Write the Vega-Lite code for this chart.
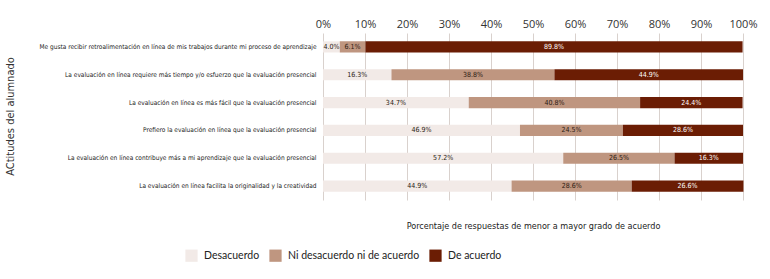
{
  "$schema": "https://vega.github.io/schema/vega-lite/v6.json",
  "width": 420,
  "height": 167,
  "autosize": "none",
  "padding": {"left": 323, "top": 33, "right": 27, "bottom": 79},
  "background": "white",
  "config": {"view": {"stroke": null}},
  "data": {"values": [
    {"actitud": "Me gusta recibir retroalimentación en línea de mis trabajos durante mi proceso de aprendizaje", "respuesta": "Desacuerdo", "orden": 1, "porcentaje": 0.040},
    {"actitud": "Me gusta recibir retroalimentación en línea de mis trabajos durante mi proceso de aprendizaje", "respuesta": "Ni desacuerdo ni de acuerdo", "orden": 2, "porcentaje": 0.061},
    {"actitud": "Me gusta recibir retroalimentación en línea de mis trabajos durante mi proceso de aprendizaje", "respuesta": "De acuerdo", "orden": 3, "porcentaje": 0.898},
    {"actitud": "La evaluación en línea requiere más tiempo y/o esfuerzo que la evaluación presencial", "respuesta": "Desacuerdo", "orden": 1, "porcentaje": 0.163},
    {"actitud": "La evaluación en línea requiere más tiempo y/o esfuerzo que la evaluación presencial", "respuesta": "Ni desacuerdo ni de acuerdo", "orden": 2, "porcentaje": 0.388},
    {"actitud": "La evaluación en línea requiere más tiempo y/o esfuerzo que la evaluación presencial", "respuesta": "De acuerdo", "orden": 3, "porcentaje": 0.449},
    {"actitud": "La evaluación en línea es más fácil que la evaluación presencial", "respuesta": "Desacuerdo", "orden": 1, "porcentaje": 0.347},
    {"actitud": "La evaluación en línea es más fácil que la evaluación presencial", "respuesta": "Ni desacuerdo ni de acuerdo", "orden": 2, "porcentaje": 0.408},
    {"actitud": "La evaluación en línea es más fácil que la evaluación presencial", "respuesta": "De acuerdo", "orden": 3, "porcentaje": 0.244},
    {"actitud": "Prefiero la evaluación en línea que la evaluación presencial", "respuesta": "Desacuerdo", "orden": 1, "porcentaje": 0.469},
    {"actitud": "Prefiero la evaluación en línea que la evaluación presencial", "respuesta": "Ni desacuerdo ni de acuerdo", "orden": 2, "porcentaje": 0.245},
    {"actitud": "Prefiero la evaluación en línea que la evaluación presencial", "respuesta": "De acuerdo", "orden": 3, "porcentaje": 0.286},
    {"actitud": "La evaluación en línea contribuye más a mi aprendizaje que la evaluación presencial", "respuesta": "Desacuerdo", "orden": 1, "porcentaje": 0.572},
    {"actitud": "La evaluación en línea contribuye más a mi aprendizaje que la evaluación presencial", "respuesta": "Ni desacuerdo ni de acuerdo", "orden": 2, "porcentaje": 0.265},
    {"actitud": "La evaluación en línea contribuye más a mi aprendizaje que la evaluación presencial", "respuesta": "De acuerdo", "orden": 3, "porcentaje": 0.163},
    {"actitud": "La evaluación en línea facilita la originalidad y la creatividad", "respuesta": "Desacuerdo", "orden": 1, "porcentaje": 0.449},
    {"actitud": "La evaluación en línea facilita la originalidad y la creatividad", "respuesta": "Ni desacuerdo ni de acuerdo", "orden": 2, "porcentaje": 0.286},
    {"actitud": "La evaluación en línea facilita la originalidad y la creatividad", "respuesta": "De acuerdo", "orden": 3, "porcentaje": 0.266}
  ]},
  "encoding": {
    "y": {
      "field": "actitud",
      "type": "nominal",
      "sort": null,
      "scale": {"paddingInner": 0.6, "paddingOuter": 0.3},
      "axis": {
        "title": "ACtitudes del alumnado",
        "titleFont": "DejaVu Sans Condensed, sans-serif",
        "titleFontSize": 11,
        "titleFontWeight": "normal",
        "titleColor": "#333333",
        "titleX": -313,
        "titleY": 83,
        "titleAngle": -90,
        "titleAlign": "center",
        "titleBaseline": "middle",
        "labelFont": "DejaVu Sans Condensed, sans-serif",
        "labelFontSize": 6.5,
        "labelColor": "#222222",
        "labelLimit": 320,
        "labelPadding": 7,
        "ticks": false,
        "domain": false
      }
    }
  },
  "layer": [
    {
      "mark": {"type": "bar"},
      "encoding": {
        "x": {
          "field": "porcentaje",
          "type": "quantitative",
          "stack": "zero",
          "scale": {"domain": [0, 1], "nice": false},
          "axis": {
            "orient": "top",
            "title": null,
            "format": ".0%",
            "values": [0, 0.1, 0.2, 0.3, 0.4, 0.5, 0.6, 0.7, 0.8, 0.9, 1],
            "labelFont": "Open Sans",
            "labelFontSize": 11,
            "labelColor": "#333333",
            "labelPadding": 4,
            "labelFlush": false,
            "ticks": false,
            "domain": false,
            "grid": true,
            "gridColor": "#d9d1cd",
            "gridWidth": 1
          }
        },
        "order": {"field": "orden", "type": "quantitative"},
        "color": {
          "field": "respuesta",
          "type": "nominal",
          "scale": {
            "domain": ["Desacuerdo", "Ni desacuerdo ni de acuerdo", "De acuerdo"],
            "range": ["#f2eae7", "#bf9680", "#6b1d04"]
          },
          "legend": {
            "title": null,
            "orient": "none",
            "direction": "horizontal",
            "legendX": -138,
            "legendY": 216,
            "symbolType": "square",
            "symbolSize": 150,
            "symbolStrokeWidth": 0,
            "symbolOpacity": 1,
            "labelFont": "Lato",
            "labelFontSize": 10.5,
            "labelColor": "#222222",
            "labelOffset": 6,
            "columnPadding": 9
          }
        }
      }
    },
    {
      "mark": {"type": "text", "font": "DejaVu Sans Condensed, sans-serif", "fontSize": 7, "baseline": "middle", "align": "center"},
      "encoding": {
        "x": {
          "field": "porcentaje",
          "type": "quantitative",
          "stack": "zero",
          "bandPosition": 0.5,
          "axis": {
            "orient": "bottom",
            "title": "Porcentaje de respuestas de menor a mayor grado de acuerdo",
            "titleFont": "DejaVu Sans Condensed, sans-serif",
            "titleFontSize": 9,
            "titleFontWeight": "normal",
            "titleColor": "#222222",
            "titlePadding": 21,
            "labels": false,
            "ticks": false,
            "domain": false,
            "grid": false
          }
        },
        "order": {"field": "orden", "type": "quantitative"},
        "text": {"field": "porcentaje", "type": "quantitative", "format": ".1%"},
        "color": {
          "condition": {"test": "datum.respuesta === 'De acuerdo'", "value": "#ffffff"},
          "value": "#2b1a12"
        }
      }
    }
  ],
  "resolve": {"axis": {"x": "independent"}}
}
